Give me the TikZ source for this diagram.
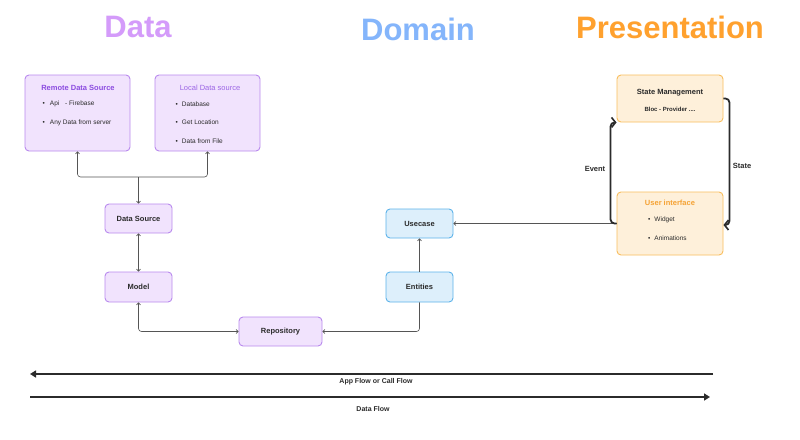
\documentclass[tikz,border=0pt]{standalone}
\usepackage{fontspec}
\setmainfont{Liberation Sans}
\usetikzlibrary{arrows.meta}
\definecolor{pfill}{HTML}{F1E3FD}
\definecolor{pborder}{HTML}{B98AEE}
\definecolor{ptitle}{HTML}{8B4BE0}
\definecolor{bfill}{HTML}{DDEFFB}
\definecolor{bborder}{HTML}{5DB3EA}
\definecolor{ofill}{HTML}{FEF0DA}
\definecolor{oborder}{HTML}{F9BE5E}
\definecolor{otitle}{HTML}{F5A233}
\definecolor{hdata}{HTML}{D49BFA}
\definecolor{hdomain}{HTML}{84B5FB}
\definecolor{hpres}{HTML}{FFA12E}
\definecolor{conncol}{HTML}{555555}
\definecolor{ink}{HTML}{2B2B2B}
\begin{document}
\begin{tikzpicture}[x=1pt,y=-1pt,
  box/.style={draw, line width=0.9pt, rounded corners=4pt, inner sep=0pt},
  pbox/.style={box, draw=pborder, fill=pfill},
  bbox/.style={box, draw=bborder, fill=bfill},
  obox/.style={box, draw=oborder, fill=ofill},
  boxlabel/.style={font=\fontsize{7.5}{9}\selectfont\bfseries, text=ink},
  bullet/.style={anchor=west, font=\fontsize{6.5}{7.5}\selectfont, text=ink, inner sep=0pt},
  heading/.style={font=\fontsize{31}{36}\selectfont\bfseries},
  conn/.style={draw=conncol, line width=0.6pt, rounded corners=3pt, -{Straight Barb[length=2pt,width=4pt]}},
  conn2/.style={draw=conncol, line width=0.6pt, rounded corners=3pt, {Straight Barb[length=2pt,width=4pt]}-{Straight Barb[length=2pt,width=4pt]}},
  bigarrow/.style={draw=ink, line width=1.8pt, rounded corners=4pt, -{Straight Barb[length=4pt,width=10pt,line width=1.6pt]}},
  flow/.style={draw=ink, line width=1.6pt, -{Triangle[length=6pt,width=7pt]}},
  flowlabel/.style={font=\fontsize{7}{8}\selectfont\bfseries, text=ink},
  sidelabel/.style={font=\fontsize{7.5}{9}\selectfont\bfseries, text=ink}
]
\path[use as bounding box, fill=white] (0,0) rectangle (800,439);

% headings
\node[heading, text=hdata] (hD) at (138,27) {Data};
\node[heading, text=hdomain] (hDo) at (418,29) {Domain};
\node[heading, text=hpres] (hP) at (670,27) {Presentation};

% data sources
\node[pbox, minimum width=105, minimum height=76] (remote) at (77.5,113) {};
\node[font=\fontsize{7.5}{9}\selectfont\bfseries, text=ptitle] (remoteT) at (78,88) {Remote Data Source};
\node[bullet] (r1) at (42.5,104) {•\hspace{5pt}Api\hspace{4pt} - Firebase};
\node[bullet] (r2) at (42.5,123) {•\hspace{5pt}Any Data from server};

\node[pbox, minimum width=105, minimum height=76] (local) at (207.5,113) {};
\node[font=\fontsize{7.5}{9}\selectfont, text=ptitle!85] (localT) at (210,88) {Local Data source};
\node[bullet] (l1) at (175.5,104) {•\hspace{4pt}Database};
\node[bullet] (l2) at (175.5,122) {•\hspace{4pt}Get Location};
\node[bullet] (l3) at (175.5,141) {•\hspace{4pt}Data from File};

% data column
\node[pbox, boxlabel, minimum width=67, minimum height=29] (ds) at (138.5,218.5) {Data Source};
\node[pbox, boxlabel, minimum width=67, minimum height=30] (model) at (138.5,287) {Model};
\node[pbox, boxlabel, minimum width=83, minimum height=29] (repo) at (280.5,331.5) {Repository};

% domain
\node[bbox, boxlabel, minimum width=67, minimum height=29] (uc) at (419.5,223.5) {Usecase};
\node[bbox, boxlabel, minimum width=67, minimum height=30] (ent) at (419.5,287) {Entities};

% presentation
\node[obox, minimum width=106, minimum height=47] (sm) at (670,98.5) {};
\node[boxlabel] (smT) at (670,93) {State Management};
\node[font=\fontsize{6}{7}\selectfont\bfseries, text=ink] (smS) at (670,109) {Bloc - Provider ....};

\node[obox, minimum width=106, minimum height=63] (ui) at (670,223.5) {};
\node[font=\fontsize{7.5}{9}\selectfont\bfseries, text=otitle] (uiT) at (670,203) {User interface};
\node[bullet] (u1) at (648,220) {•\hspace{4pt}Widget};
\node[bullet] (u2) at (648,238) {•\hspace{4pt}Animations};

% data connectors
\coordinate (junc) at (138.5,177);
\draw[conn] (junc) -| (remote.south);
\draw[conn] (junc) -| (local.south);
\draw[conn] (junc) -- (ds.north);
\draw[conn2] (ds.south) -- (model.north);
\draw[conn2] (model.south) |- (repo.west);
\draw[conn] (ent.south) |- (repo.east);
\draw[conn] (ent.north) -- (uc.south);
\draw[conn] (ui.west) -- (uc.east);

% event / state
\draw[bigarrow] (ui.west) -- ++(-6,0) |- (sm.south west);
\draw[bigarrow] (sm.east) -- ++(6,0) |- ([yshift=-1.5pt]ui.east);
\node[sidelabel] (evL) at (595,169) {Event};
\node[sidelabel] (stL) at (742,166) {State};

% flows
\coordinate (af1) at (713,374);
\coordinate (af2) at (30,374);
\coordinate (df1) at (30,397);
\coordinate (df2) at (710,397);
\draw[flow] (af1) -- (af2);
\draw[flow] (df1) -- (df2);
\node[flowlabel] (afL) at (376,381.5) {App Flow or Call Flow};
\node[flowlabel] (dfL) at (373,408.5) {Data Flow};
\end{tikzpicture}
\end{document}
